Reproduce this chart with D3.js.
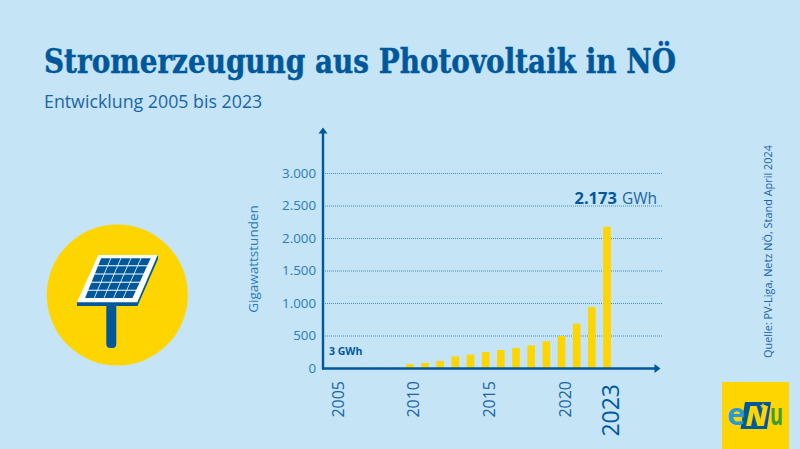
<!DOCTYPE html>
<html>
<head>
<meta charset="utf-8">
<script src="https://cdn.jsdelivr.net/npm/d3@7"></script>
<style>
  html, body { margin: 0; padding: 0; background: #c5e4f5; }
  svg { display: block; }
  text { font-family: "Open Sans", sans-serif; }
</style>
</head>
<body>
<svg id="chart" width="800" height="449"></svg>
<script>
var years = [2005, 2006, 2007, 2008, 2009, 2010, 2011, 2012, 2013, 2014, 2015, 2016, 2017, 2018, 2019, 2020, 2021, 2022, 2023];
var gwh = [3, 3, 4, 5, 8, 61, 77, 108, 180, 205, 246, 277, 308, 349, 410, 492, 682, 938, 2173];
var yTicks = [0, 500, 1000, 1500, 2000, 2500, 3000];
var xTicks = [2005, 2010, 2015, 2020, 2023];

var blue = "#00589b", midBlue = "#2a7db5", yellow = "#ffd500", bg = "#c5e4f5";
var svg = d3.select("#chart");
var de = d3.formatLocale({ decimal: ",", thousands: ".", grouping: [3], currency: ["", " €"] });

svg.append("rect").attr("width", 800).attr("height", 449).attr("fill", bg);

// titles
svg.append("text").attr("x", 44).attr("y", 73)
  .attr("textLength", 632).attr("lengthAdjust", "spacingAndGlyphs")
  .attr("fill", blue).attr("stroke", blue).attr("stroke-width", 0.5)
  .style("font-family", "'DejaVu Serif'").style("font-weight", 700).style("font-size", "33px")
  .text("Stromerzeugung aus Photovoltaik in NÖ");
svg.append("text").attr("x", 44).attr("y", 108)
  .attr("fill", "#1a66a5").style("font-size", "17.8px")
  .text("Entwicklung 2005 bis 2023");

// scales
var x = d3.scaleLinear().domain([2005, 2023]).range([334, 607]);
var y = d3.scaleLinear().domain([0, 3000]).range([368, 173]);

// grid
svg.append("g").selectAll("line").data(yTicks.slice(1)).enter().append("line")
  .attr("x1", 325).attr("x2", 662)
  .attr("y1", function(d){ return y(d) + 0.5; })
  .attr("y2", function(d){ return y(d) + 0.5; })
  .attr("stroke", "#2f80b8").attr("stroke-opacity", 0.85).attr("stroke-width", 1).attr("stroke-dasharray", "1 1");

// bars
svg.append("g").selectAll("rect").data(years).enter().append("rect")
  .attr("x", function(d){ return x(d) - 3.8; })
  .attr("width", 7.6)
  .attr("y", function(d, i){ return y(gwh[i]); })
  .attr("height", function(d, i){ return y(0) - y(gwh[i]); })
  .attr("fill", yellow);

// y axis labels
var yAxis = svg.append("g").attr("transform", "translate(316,0)")
  .call(d3.axisLeft(y).tickValues(yTicks).tickSize(0).tickPadding(0).tickFormat(de.format(",d")));
yAxis.select(".domain").remove();
yAxis.selectAll("text").attr("fill", midBlue).style("font-size", "13.3px").style("font-family", "'Open Sans'");

// x axis labels
var xAxis = svg.append("g").attr("transform", "translate(3.5,381)")
  .call(d3.axisBottom(x).tickValues(xTicks).tickSize(0).tickPadding(0).tickFormat(d3.format("d")));
xAxis.select(".domain").remove();
xAxis.selectAll("text")
  .attr("transform", "rotate(-90)")
  .attr("text-anchor", "end")
  .attr("x", function(d){ return d === 2023 ? -3 : 0; }).attr("y", 0).attr("dy", "0.35em")
  .attr("fill", function(d){ return d === 2023 ? blue : "#1a66a5"; })
  .style("font-family", "'Open Sans'")
  .style("font-size", function(d){ return d === 2023 ? "23px" : "16px"; });

// axis arrows
svg.append("line").attr("x1", 323).attr("x2", 323).attr("y1", 131).attr("y2", 369.5)
  .attr("stroke", blue).attr("stroke-width", 2.4);
svg.append("line").attr("x1", 322).attr("x2", 657).attr("y1", 368.5).attr("y2", 368.5)
  .attr("stroke", blue).attr("stroke-width", 2.4);
svg.append("path").attr("d", "M323 127.5 L327.5 133.5 L318.5 133.5 Z").attr("fill", blue);
svg.append("path").attr("d", "M660.5 368.5 L654.5 364 L654.5 373 Z").attr("fill", blue);

// annotations
svg.append("text").attr("x", 329).attr("y", 355).attr("fill", blue)
  .style("font-size", "10.5px").style("font-weight", 700).text("3 GWh");
var note = svg.append("text").attr("x", 657).attr("y", 204).attr("text-anchor", "end").attr("fill", blue);
note.append("tspan").style("font-size", "16.5px").style("font-weight", 700).text("2.173");
note.append("tspan").attr("dx", 5).attr("fill", "#1a66a5").style("font-size", "15.5px").text("GWh");

svg.append("text").attr("transform", "translate(258,259) rotate(-90)")
  .attr("text-anchor", "middle").attr("fill", midBlue).style("font-size", "13.5px").text("Gigawattstunden");
svg.append("text").attr("transform", "translate(772,358) rotate(-90)")
  .attr("fill", "#1a66a5").style("font-size", "10.9px").text("Quelle: PV-Liga, Netz NÖ, Stand April 2024");

// solar panel icon
var icon = svg.append("g");
icon.append("circle").attr("cx", 117.3).attr("cy", 295).attr("r", 70.5).attr("fill", yellow);
icon.append("rect").attr("x", 106.3).attr("y", 303).attr("width", 10).attr("height", 45).attr("rx", 4).attr("fill", blue);
icon.append("path").attr("d", "M77 302 L77 306 L137.5 306 L158 259 L158 255 Z").attr("fill", blue);
icon.append("path").attr("d", "M98.3 255 L157.7 255 L137.3 302.3 L77 302.3 Z").attr("fill", "#fff");

var cols = d3.range(5), rows = d3.range(5);
function panelPoint(u, v) {
  var lx = 101 + (84.5 - 101) * v, rx = 151.3 + (132.7 - 151.3) * v;
  return [lx + (rx - lx) * u, 257.7 + (298.5 - 257.7) * v];
}
rows.forEach(function(r) {
  cols.forEach(function(c) {
    var g = 0.04;
    var pts = [
      panelPoint((c + g) / 5, (r + g * 1.5) / 5),
      panelPoint((c + 1 - g) / 5, (r + g * 1.5) / 5),
      panelPoint((c + 1 - g) / 5, (r + 1 - g * 1.5) / 5),
      panelPoint((c + g) / 5, (r + 1 - g * 1.5) / 5)
    ];
    icon.append("polygon").attr("points", pts.join(" ")).attr("fill", blue);
  });
});

// logo
var logo = svg.append("g");
logo.append("rect").attr("x", 722).attr("y", 382).attr("width", 67).attr("height", 67).attr("fill", yellow);
logo.append("polygon").attr("points", "745,402 771,402 767,429 740.5,429").attr("fill", blue);
logo.append("text").attr("x", 727).attr("y", 425).attr("fill", "#2a9ad6")
  .style("font-size", "31px").style("font-weight", 700).text("e");
logo.append("text").attr("x", 745.5).attr("y", 426).attr("fill", yellow)
  .style("font-size", "28px").style("font-weight", 800).style("font-style", "italic").text("N");
logo.append("text").attr("x", 770).attr("y", 425)
  .attr("textLength", 13).attr("lengthAdjust", "spacingAndGlyphs").attr("fill", "#3f9c35")
  .style("font-size", "31px").style("font-weight", 700).text("u");
logo.append("path").attr("d", d3.symbol().type(d3.symbolStar).size(14)).attr("transform", "translate(763,406)").attr("fill", yellow);
</script>
</body>
</html>
